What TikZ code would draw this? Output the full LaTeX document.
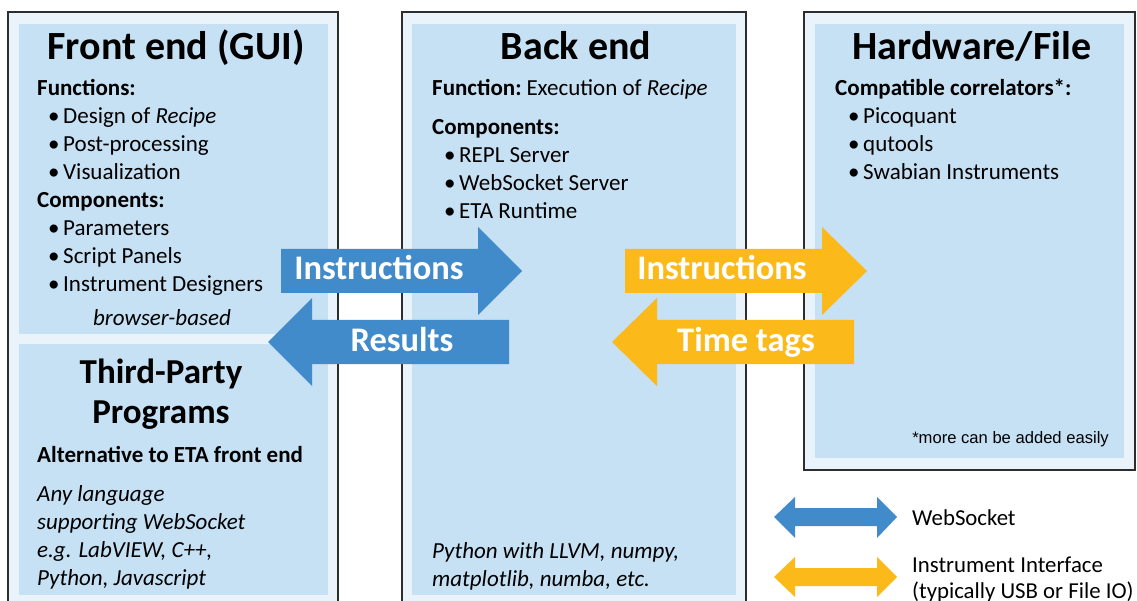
\documentclass[tikz,border=0pt]{standalone}
\usepackage{fontspec}
\setmainfont{Carlito}
\newfontfamily\arialfont{Liberation Sans}
\definecolor{outerc}{RGB}{234,243,250}
\definecolor{panelc}{RGB}{198,224,244}
\definecolor{borderc}{RGB}{45,45,45}
\definecolor{arrblue}{RGB}{66,139,202}
\definecolor{arrorange}{RGB}{251,185,26}
\newcommand\mybul{\makebox[15pt][l]{•}}
\tikzset{
  outerbox/.style={fill=outerc, draw=borderc, line width=1.3pt},
  panel/.style={fill=panelc, draw=none},
  ttl/.style={font=\fontsize{40}{44}\selectfont\bfseries, anchor=base, inner sep=0pt},
  ttlsmall/.style={font=\fontsize{35}{40}\selectfont\bfseries, anchor=base, inner sep=0pt},
  txt/.style={font=\fontsize{23}{27}\selectfont, anchor=base west, inner sep=0pt},
  hd/.style={font=\fontsize{23}{27}\selectfont\bfseries, anchor=base west, inner sep=0pt},
  itx/.style={font=\fontsize{23}{27}\selectfont\itshape, anchor=base west, inner sep=0pt},
  arrtxt/.style={font=\fontsize{34.5}{38}\selectfont\bfseries, text=white, anchor=base, inner sep=0pt},
  bluearrow/.style={fill=arrblue, draw=none},
  orangearrow/.style={fill=arrorange, draw=none},
  legtxt/.style={font=\fontsize{22.8}{27}\selectfont, anchor=base west, inner sep=0pt},
}
\begin{document}
\begin{tikzpicture}[x=1pt,y=-1pt]
\useasboundingbox (0,0) rectangle (1137,601);
\clip (0,0) rectangle (1137,601);
% columns
\draw[outerbox] (8,12) rectangle (338,640);
\draw[outerbox] (402,12) rectangle (746,640);
\draw[outerbox] (804,12) rectangle (1135,470);
\fill[panel] (19,24) rectangle (328,334);
\fill[panel] (19,344) rectangle (328,595);
\fill[panel] (412,24) rectangle (736,595);
\fill[panel] (815,24) rectangle (1124,458);

% arrows
\fill[bluearrow] (281,249) -- (478,249) -- (478,227) -- (522,271) -- (478,315) -- (478,293) -- (281,293) -- cycle;
\fill[bluearrow] (509,320) -- (312,320) -- (312,298) -- (268,342) -- (312,386) -- (312,364) -- (509,364) -- cycle;
\fill[orangearrow] (625,249) -- (822,249) -- (822,227) -- (867,271) -- (822,315) -- (822,293) -- (625,293) -- cycle;
\fill[orangearrow] (854,320) -- (657,320) -- (657,298) -- (612,342) -- (657,386) -- (657,364) -- (854,364) -- cycle;
\node[arrtxt] (ainstr) at (379,280) {Instructions};
\node[arrtxt] (ares) at (402,351) {Results};
\node[arrtxt] (binstr) at (722,280) {Instructions};
\node[arrtxt] (btags) at (746,351) {Time tags};

% front end
\node[ttl] (fetitle) at (176,60) {Front end (GUI)};
\node[hd] (fefun) at (37,96) {Functions:};
\node[txt] (fe1) at (48,124) {\mybul Design of \textit{Recipe}};
\node[txt] (fe2) at (48,152) {\mybul Post-processing};
\node[txt] (fe3) at (48,180) {\mybul Visualization};
\node[hd] (fecomp) at (37,208) {Components:};
\node[txt] (fe4) at (48,236) {\mybul Parameters};
\node[txt] (fe5) at (48,264) {\mybul Script Panels};
\node[txt] (fe6) at (48,292) {\mybul Instrument Designers};
\node[itx, anchor=base] (febrowser) at (162,326) {browser-based};

% third party
\node[ttlsmall] (tp1) at (161,383) {Third-Party};
\node[ttlsmall] (tp2) at (161,423) {Programs};
\node[hd] (tpalt) at (37,462) {Alternative to ETA front end};
\node[itx] (tpa) at (37,501) {Any language};
\node[itx] (tpb) at (37,529) {supporting WebSocket};
\node[itx] (tpc) at (37,557) {e.g. LabVIEW, C++,};
\node[itx] (tpd) at (37,585) {Python, Javascript};

% back end
\node[ttl] (betitle) at (576,60) {Back end};
\node[txt] (befun) at (432,96) {\textbf{Function:}\hspace{-2pt} Execution of \textit{Recipe}};
\node[hd] (becomp) at (432,135) {Components:};
\node[txt] (be1) at (444,163) {\mybul REPL Server};
\node[txt] (be2) at (444,191) {\mybul WebSocket Server};
\node[txt] (be3) at (444,219) {\mybul ETA Runtime};
\node[itx] (bepy1) at (432,558) {Python with LLVM, numpy,};
\node[itx] (bepy2) at (432,586) {matplotlib, numba, etc.};

% hardware
\node[ttl] (hwtitle) at (972,60) {Hardware/File};
\node[hd] (hwcomp) at (835,96) {Compatible correlators*:};
\node[txt] (hw1) at (848,124) {\mybul Picoquant};
\node[txt] (hw2) at (848,152) {\mybul qutools};
\node[txt] (hw3) at (848,180) {\mybul Swabian Instruments};
\node[font=\arialfont\fontsize{16.6}{19}\selectfont, anchor=base east, inner sep=0pt] (hwnote) at (1109,443) {*more can be added easily};

% legend
\fill[bluearrow] (774,517) -- (795,497) -- (795,508) -- (877,508) -- (877,497) -- (897,517) -- (877,538) -- (877,526) -- (795,526) -- (795,538) -- cycle;
\fill[orangearrow] (774,577) -- (795,557) -- (795,568) -- (877,568) -- (877,557) -- (897,577) -- (877,597) -- (877,586) -- (795,586) -- (795,597) -- cycle;
\node[legtxt] (lg1) at (912,525) {WebSocket};
\node[legtxt] (lg2) at (912,572) {Instrument Interface};
\node[legtxt] (lg3) at (912,598) {(typically USB or File IO)};
\end{tikzpicture}
\end{document}
